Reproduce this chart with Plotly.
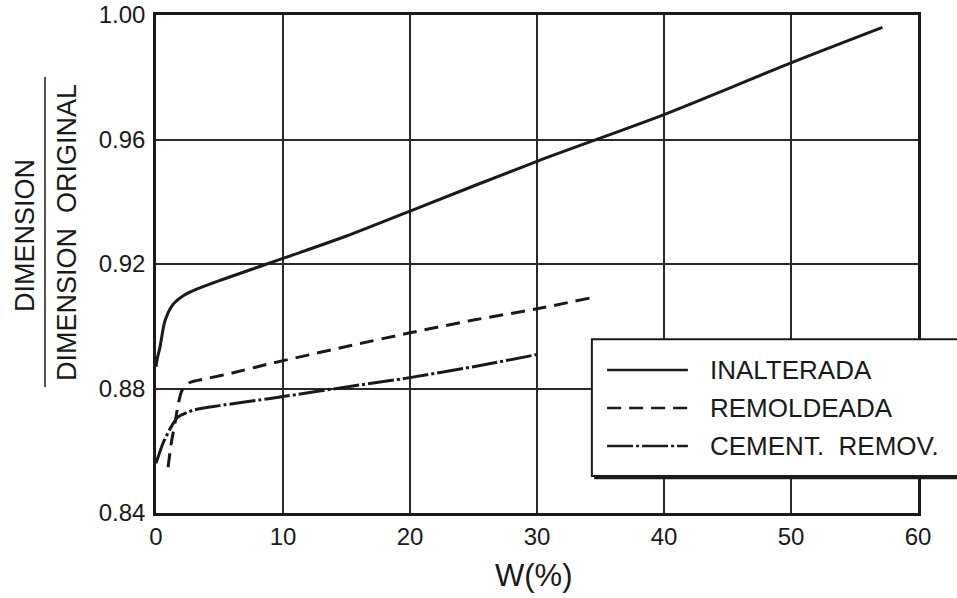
import plotly.graph_objects as go

# ---- data ----
inalt_x = [0, 0.12, 0.31, 0.71, 1.36, 2.15, 3.2, 5.3, 10, 15, 20, 30, 40, 50, 57.2]
inalt_y = [0.887, 0.890, 0.8932, 0.9018, 0.9071, 0.9098, 0.9119, 0.9151, 0.9218,
           0.929, 0.937, 0.953, 0.968, 0.9846, 0.996]

remol_x = [0.95, 1.2, 1.5, 1.75, 2.05, 2.7, 4.0, 6.0, 9.0, 15, 20, 25, 30, 34.2]
remol_y = [0.8547, 0.8624, 0.869, 0.875, 0.8794, 0.882, 0.8832, 0.885, 0.888,
           0.8935, 0.8979, 0.902, 0.9056, 0.9091]

cem_x = [0, 0.25, 0.55, 1.1, 1.7, 2.9, 5.0, 9.0, 10, 15, 20, 25, 30]
cem_y = [0.856, 0.859, 0.8624, 0.867, 0.8707, 0.873, 0.8745, 0.8768, 0.8774,
         0.8805, 0.8835, 0.887, 0.8909]

series_names = ["INALTERADA", "REMOLDEADA", "CEMENT.  REMOV."]
x_ticks = [0, 10, 20, 30, 40, 50, 60]
y_ticks = [0.84, 0.88, 0.92, 0.96, 1.00]
y_ticklabels = ["0.84", "0.88", "0.92", "0.96", "1.00"]

FONT = "Liberation Sans, Arial, sans-serif"
INK = "#1a1a1a"
DASH_REMOL = "14px,8px"
DASH_CEM = "26px,3px,3px,3px"

fig = go.Figure()
fig.add_trace(go.Scatter(x=inalt_x, y=inalt_y, mode="lines", name=series_names[0],
                         line=dict(color=INK, width=3, shape="spline", smoothing=0.8)))
fig.add_trace(go.Scatter(x=remol_x, y=remol_y, mode="lines", name=series_names[1],
                         line=dict(color=INK, width=3, dash=DASH_REMOL,
                                   shape="spline", smoothing=0.6)))
fig.add_trace(go.Scatter(x=cem_x, y=cem_y, mode="lines", name=series_names[2],
                         line=dict(color=INK, width=3, dash=DASH_CEM,
                                   shape="spline", smoothing=0.6)))

fig.update_layout(
    width=957, height=598,
    margin=dict(l=156, r=39, t=15, b=85),
    paper_bgcolor="white", plot_bgcolor="white",
    showlegend=False,
    font=dict(family=FONT, color=INK),
)
fig.update_xaxes(range=[0, 60], tickvals=x_ticks, showgrid=True, gridcolor="#2a2a2a",
                 gridwidth=1.5, showline=True, linecolor=INK, linewidth=2.5, mirror=True,
                 zeroline=False, ticks="", automargin=False,
                 tickfont=dict(size=24, family=FONT, color=INK))
fig.update_yaxes(range=[0.84, 1.00], tickvals=y_ticks, ticktext=y_ticklabels,
                 showgrid=True, gridcolor="#2a2a2a", gridwidth=1.5, showline=True,
                 linecolor=INK, linewidth=2.5, mirror=True, zeroline=False, ticks="",
                 automargin=False, ticklabelstandoff=3,
                 tickfont=dict(size=24, family=FONT, color=INK))

# axis titles
fig.add_annotation(text="W(%)", xref="paper", yref="paper", x=0.496, y=-0.1245,
                   xanchor="center", yanchor="middle", showarrow=False,
                   font=dict(size=31, family=FONT, color=INK))
fig.add_annotation(text="DIMENSION", xref="paper", yref="paper", x=-0.172, y=0.558,
                   xanchor="center", yanchor="middle", showarrow=False, textangle=-90,
                   font=dict(size=27, family=FONT, color=INK))
fig.add_annotation(text="DIMENSION  ORIGINAL", xref="paper", yref="paper", x=-0.117, y=0.564,
                   xanchor="center", yanchor="middle", showarrow=False, textangle=-90,
                   font=dict(size=27, family=FONT, color=INK))
fig.add_shape(type="line", xref="paper", yref="paper", x0=-0.1457, x1=-0.1457,
              y0=0.253, y1=0.8755, line=dict(color=INK, width=1.5))

# legend box (custom, to get the long line samples)
fig.add_shape(type="rect", xref="paper", yref="paper", x0=0.575, x1=1.07,
              y0=0.068, y1=0.343, fillcolor=INK, line=dict(width=0), layer="above")
fig.add_shape(type="rect", xref="paper", yref="paper", x0=0.572, x1=1.06,
              y0=0.0743, y1=0.349, fillcolor="white", line=dict(color=INK, width=2),
              layer="above")
rows_y = [0.2871, 0.2108, 0.1345]
dashes = ["solid", DASH_REMOL, DASH_CEM]
for name, ry, d in zip(series_names, rows_y, dashes):
    fig.add_shape(type="line", xref="paper", yref="paper", x0=0.592, x1=0.698,
                  y0=ry, y1=ry, line=dict(color=INK, width=2.5, dash=d), layer="above")
    fig.add_annotation(text=name, xref="paper", yref="paper", x=0.7244, y=ry,
                       xanchor="left", yanchor="middle", showarrow=False,
                       font=dict(size=26, family=FONT, color=INK))

fig.write_html("out.html", config={"displayModeBar": False},
               post_script="document.body.style.margin='0';")
